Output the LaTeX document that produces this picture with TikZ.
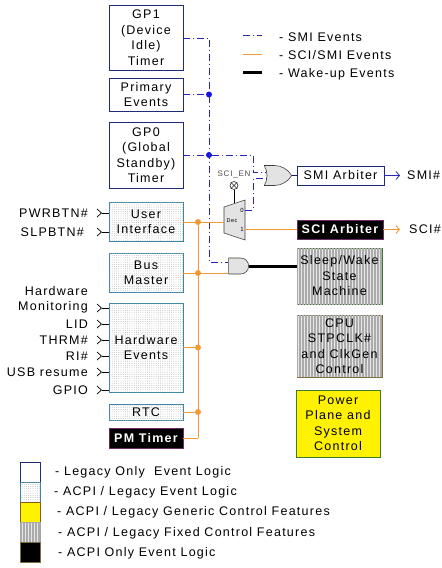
\documentclass[tikz,border=0pt]{standalone}
\usepackage{fontspec}
\setmainfont{Liberation Sans}[LetterSpace=10]
\usetikzlibrary{patterns.meta,shapes.gates.logic.US,arrows.meta}
\definecolor{legblue}{HTML}{1F2A78}
\definecolor{acpiblue}{HTML}{3A86A6}
\definecolor{orng}{HTML}{F29A38}
\definecolor{smiblue}{HTML}{2828B4}
\definecolor{dotblue}{HTML}{1414E6}
\definecolor{grnb}{HTML}{3C7A32}
\definecolor{oliveb}{HTML}{7D6E3E}
\definecolor{purpb}{HTML}{6A2A66}
\definecolor{brownb}{HTML}{8A5A2A}
\definecolor{stripeg}{HTML}{ABABAB}
\definecolor{stripebg}{HTML}{E6E6E6}
\begin{document}
\begin{tikzpicture}[x=1pt,y=-1pt,
  base/.style={font=\fontsize{12.5}{15.5}\selectfont, align=center, inner sep=0, minimum width=74pt, line width=0.8pt},
  legacy/.style={base, draw=legblue, fill=white},
  acpi/.style={base, draw=acpiblue, fill=white, postaction={pattern={Dots[distance=2.2pt,radius=0.45pt]}, pattern color=gray!60}},
  blackbox/.style={base, draw=purpb, fill=black, text=white},
  fixedbox/.style={base, fill=stripebg, postaction={pattern={Lines[angle=90,distance=3pt,line width=1.7pt]}, pattern color=stripeg}},
  lbl/.style={font=\fontsize{12.5}{15.5}\selectfont, inner sep=0},
  smiline/.style={smiblue, line width=0.8pt, dash pattern=on 7pt off 3pt on 1pt off 3pt},
  orline/.style={orng, line width=0.9pt},
  wakeline/.style={black, line width=3pt},
  dotb/.style={circle, fill=dotblue, inner sep=0, minimum size=6pt},
  doto/.style={circle, fill=orng, inner sep=0, minimum size=6pt},
  gatestyle/.style={draw=gray!50!black, fill=gray!22, inner sep=0, line width=0.6pt},
  inpin/.pic={\draw[line width=0.7pt] (-4.5,-4) -- (0,0) -- (-4.5,4);}
]
\useasboundingbox (0,0) rectangle (442,568);

% left column boxes
\node[legacy, minimum height=65pt] (gp1) at (146,37.5) {GP1\\(Device\\Idle)\\Timer};
\node[legacy, minimum height=33pt] (prim) at (146,94.5) {Primary\\Events};
\node[legacy, minimum height=66pt] (gp0) at (146,155) {GP0\\(Global\\Standby)\\Timer};
\node[acpi, minimum height=39pt] (ui) at (146,222) {User\\Interface};
\node[acpi, minimum height=39pt] (bus) at (146,273) {Bus\\Master};
\node[acpi, minimum height=89pt] (hw) at (146,347.5) {Hardware\\Events};
\node[acpi, minimum height=16pt] (rtc) at (146,412) {RTC};
\node[blackbox, minimum height=20pt] (pmt) at (146,438) {\bfseries PM Timer};

% right column boxes
\node[legacy, minimum width=87pt, minimum height=19pt] (smi) at (340.5,175.5) {SMI Arbiter};
\node[blackbox, minimum width=86pt, minimum height=19pt] (sci) at (340,229.5) {\bfseries SCI Arbiter};
\node[fixedbox, draw=grnb, minimum width=85pt, minimum height=56pt] (slp) at (339.5,276) {Sleep/Wake\\State\\Machine};
\node[fixedbox, draw=oliveb, minimum width=85pt, minimum height=62pt] (cpu) at (339.5,346) {CPU\\STPCLK\#\\and ClkGen\\Control};
\node[base, draw=grnb, fill=yellow, minimum width=84pt, minimum height=67pt] (pwr) at (338,423.5) {Power\\Plane and\\System\\Control};

% input labels
\node[lbl, anchor=east] (pwrbtn) at (88,213) {PWRBTN\#};
\node[lbl, anchor=east] (slpbtn) at (84,232) {SLPBTN\#};
\node[lbl, anchor=east, align=right] (hwmon) at (88,300) {Hardware\\Monitoring};
\node[lbl, anchor=east] (lid) at (88,324) {LID};
\node[lbl, anchor=east] (thrm) at (88,340) {THRM\#};
\node[lbl, anchor=east] (ri) at (88,356) {RI\#};
\node[lbl, anchor=east] (usb) at (88,372) {USB resume};
\node[lbl, anchor=east] (gpio) at (88,390) {GPIO};
\foreach \n/\y in {pwrp/213, slpp/232, hwp/308, lidp/324, thrmp/340, rip/356, usbp/372, gpiop/390}{
  \coordinate (\n) at (101.5,\y);
  \pic at (\n) {inpin};
}
\foreach \n in {pwrp, slpp}{ \draw[line width=0.7pt] (\n) -- (\n -| ui.west); }
\foreach \n in {hwp, lidp, thrmp, rip, usbp, gpiop}{ \draw[line width=0.7pt] (\n) -- (\n -| hw.west); }

% gates
\node[or gate US, gatestyle, logic gate inputs=nn, minimum width=18pt, minimum height=20pt] (org) at (276,175.5) {};
\node[and gate US, gatestyle, logic gate inputs=nn, minimum width=18pt, minimum height=16pt] (andg) at (238,266) {};

% mux
\coordinate (mA) at (224,207);
\coordinate (mB) at (245,200);
\coordinate (mC) at (245,240);
\coordinate (mD) at (224,233);
\draw[draw=gray!50!black, fill=gray!22, line width=0.6pt] (mA) -- (mB) -- (mC) -- (mD) -- cycle;
\node[font=\fontsize{5.5}{6}\selectfont, inner sep=0] (dec) at (232,221) {Dec};
\node[font=\fontsize{6}{6}\selectfont, inner sep=0] (lab0) at (242,210) {0};
\node[font=\fontsize{6}{6}\selectfont, inner sep=0] (lab1) at (242,229) {1};
\coordinate (mux0) at (245,210);
\coordinate (mux1) at (245,229.5);
\coordinate (muxin) at (224,222);
\coordinate (muxtop) at (234,203.3);

% SCI_EN
\node[font=\fontsize{8}{9}\selectfont, text=gray!60!black, inner sep=0] (scien) at (234,174) {SCI\_EN};
\node[circle, draw=gray!30!black, fill=white, inner sep=0, minimum size=8pt, line width=0.6pt] (xen) at (234,185.5) {};
\draw[gray!30!black, line width=0.6pt] (xen.north west) -- (xen.south east) (xen.north east) -- (xen.south west);
\draw[line width=0.6pt] (xen.south) -- (muxtop);

% SMI (blue dash-dot) network
\coordinate (b1) at (209,38);
\coordinate (bA) at (209,262);
\coordinate (bc) at (253,155);
\coordinate (muxc) at (253,210);
\node[dotb] (bp) at (209,94.5) {};
\node[dotb] (bg) at (209,155) {};
\draw[smiline] (gp1.east |- b1) -- (b1) -- (bA) -- (bA -| andg.input 1);
\draw[smiline] (prim.east) -- (bp);
\draw[smiline] (gp0.east) -- (bg) -- (bc) |- (org.input 1);
\draw[smiline] (mux0) -- (muxc) |- (org.input 2);
\draw[smiblue!60!black, line width=0.8pt] (org.output) -- (org.output -| smi.west);
\coordinate (smiend) at (400,175.5);
\draw[smiblue, line width=0.8pt, -{Straight Barb[length=3.5pt,width=8pt]}] (smi.east) -- (smiend);
\node[lbl, anchor=west] (smiout) at (407,175.5) {SMI\#};

% SCI (orange) network
\node[doto] (od1) at (198,222) {};
\node[doto] (od2) at (198,273) {};
\node[doto] (od3) at (198,347.5) {};
\node[doto] (od4) at (198,412) {};
\coordinate (od5) at (198,438);
\draw[orline] (od1) -- (od5);
\draw[orline] (ui.east) -- (muxin);
\draw[orline] (bus.east) -- (bus.east -| andg.input 2);
\draw[orline] (hw.east) -- (od3);
\draw[orline] (rtc.east) -- (od4);
\draw[orline] (pmt.east) -- (od5);
\draw[orline] (mux1) -- (mux1 -| sci.west);
\coordinate (sciend) at (400,229.5);
\draw[orline, -{Straight Barb[length=3.5pt,width=8pt]}] (sci.east) -- (sciend);
\node[lbl, anchor=west] (sciout) at (409,229.5) {SCI\#};

% wake
\draw[wakeline] (andg.output) -- (andg.output -| slp.west);

% top legend
\coordinate (l1a) at (243,35); \coordinate (l1b) at (262,35);
\coordinate (l2a) at (243,54); \coordinate (l2b) at (262,54);
\coordinate (l3a) at (243,72); \coordinate (l3b) at (262,72);
\draw[smiline] (l1a) -- (l1b);
\draw[orline] (l2a) -- (l2b);
\draw[wakeline] (l3a) -- (l3b);
\node[lbl, anchor=west] (t1) at (279,37) {- SMI Events};
\node[lbl, anchor=west] (t2) at (279,55.5) {- SCI/SMI Events};
\node[lbl, anchor=west] (t3) at (279,74) {- Wake-up Events};

% bottom legend
\node[legacy, minimum width=20pt, minimum height=20pt] (k1) at (30.5,472) {};
\node[acpi, minimum width=20pt, minimum height=20pt] (k2) at (30.5,492) {};
\node[base, draw=brownb, fill=yellow, minimum width=20pt, minimum height=20pt] (k3) at (30.5,512) {};
\node[fixedbox, draw=gray!70, minimum width=20pt, minimum height=20pt] (k4) at (30.5,532) {};
\node[base, draw=oliveb, fill=black, minimum width=20pt, minimum height=20pt] (k5) at (30.5,552) {};
\node[lbl, anchor=west] (e1) at (55,472.5) {- Legacy Only\ \ Event Logic};
\node[lbl, anchor=west] (e2) at (54,492.5) {- ACPI / Legacy Event Logic};
\node[lbl, anchor=west] (e3) at (57,512.5) {- ACPI / Legacy Generic Control Features};
\node[lbl, anchor=west] (e4) at (58,533) {- ACPI / Legacy Fixed Control Features};
\node[lbl, anchor=west] (e5) at (58,553) {- ACPI Only Event Logic};
\end{tikzpicture}
\end{document}
